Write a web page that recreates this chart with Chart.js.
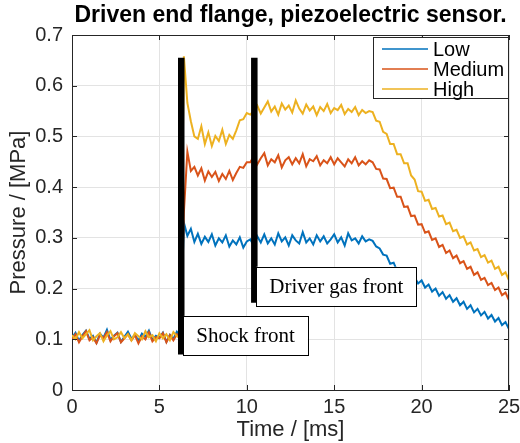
<!DOCTYPE html>
<html>
<head>
<meta charset="utf-8">
<script src="https://cdn.jsdelivr.net/npm/chart.js@4.4.1/dist/chart.umd.min.js"></script>
<style>
  html, body { margin: 0; padding: 0; background: #fff; }
  #chart { display: block; }
</style>
</head>
<body>
<canvas id="chart" width="520" height="443"></canvas>
<script>
// time axis, ms
const times = [
  0, 0.2, 0.4, 0.6, 0.8, 1, 1.2, 1.4, 1.6, 1.8,
  2, 2.2, 2.4, 2.6, 2.8, 3, 3.2, 3.4, 3.6, 3.8,
  4, 4.2, 4.4, 4.6, 4.8, 5, 5.2, 5.4, 5.6, 5.8,
  6, 6.2, 6.4, 6.6, 6.8, 7, 7.2, 7.4, 7.6, 7.8,
  8, 8.2, 8.4, 8.6, 8.8, 9, 9.2, 9.4, 9.6, 9.8,
  10, 10.2, 10.4, 10.6, 10.8, 11, 11.2, 11.4, 11.6, 11.8,
  12, 12.2, 12.4, 12.6, 12.8, 13, 13.2, 13.4, 13.6, 13.8,
  14, 14.2, 14.4, 14.6, 14.8, 15, 15.2, 15.4, 15.6, 15.8,
  16, 16.2, 16.4, 16.6, 16.8, 17, 17.2, 17.4, 17.6, 17.8,
  18, 18.2, 18.4, 18.6, 18.8, 19, 19.2, 19.4, 19.6, 19.8,
  20, 20.2, 20.4, 20.6, 20.8, 21, 21.2, 21.4, 21.6, 21.8,
  22, 22.2, 22.4, 22.6, 22.8, 23, 23.2, 23.4, 23.6, 23.8,
  24, 24.2, 24.4, 24.6, 24.8, 25
];

// pressure, MPa
const low = [
  .103, .113, .097, .109, .117, .101, .107, .093, .111, .103,
  .119, .099, .107, .113, .095, .105, .115, .101, .109, .097,
  .111, .105, .117, .099, .107, .103, .113, .095, .109, .101,
  .115, .105, .330, .304, .318, .292, .308, .288, .302, .292,
  .307, .285, .299, .291, .305, .283, .295, .287, .301, .281,
  .293, .297, .285, .303, .291, .307, .289, .299, .287, .309,
  .293, .301, .285, .305, .295, .289, .311, .291, .299, .287,
  .305, .293, .303, .289, .297, .307, .291, .301, .285, .309,
  .295, .299, .289, .303, .293, .297, .294, .283, .279, .267,
  .265, .249, .251, .235, .239, .225, .230, .216, .222, .210,
  .216, .202, .208, .194, .200, .186, .193, .180, .187, .174,
  .181, .167, .174, .160, .167, .153, .160, .147, .154, .141,
  .148, .135, .142, .128, .134, .120
];
const medium = [
  .100, .110, .094, .106, .116, .098, .104, .092, .108, .102,
  .114, .096, .106, .112, .094, .102, .110, .098, .108, .092,
  .106, .100, .114, .096, .104, .102, .112, .094, .108, .098,
  .110, .104, .350, .470, .432, .440, .423, .437, .413, .431,
  .420, .430, .412, .426, .416, .432, .414, .428, .440, .438,
  .449, .449, .461, .445, .457, .467, .443, .455, .449, .463,
  .439, .453, .459, .445, .457, .447, .465, .441, .455, .451,
  .461, .443, .453, .447, .459, .445, .457, .449, .441, .455,
  .447, .459, .443, .451, .445, .453, .449, .436, .435, .417,
  .416, .398, .399, .381, .381, .361, .362, .343, .344, .326,
  .327, .310, .313, .296, .299, .282, .286, .270, .275, .260,
  .265, .250, .254, .239, .243, .227, .232, .217, .221, .207,
  .211, .197, .202, .187, .192, .177
];
const high = [
  .108, .100, .114, .102, .110, .118, .098, .106, .112, .096,
  .108, .116, .100, .104, .114, .102, .110, .098, .112, .106,
  .100, .116, .104, .108, .096, .112, .102, .110, .098, .114,
  .106, .102, .658, .566, .530, .500, .495, .520, .485, .508,
  .481, .501, .491, .513, .485, .503, .495, .512, .532, .534,
  .546, .543, .551, .561, .545, .557, .569, .549, .559, .543,
  .565, .553, .561, .547, .571, .555, .545, .563, .551, .559,
  .542, .558, .550, .564, .546, .556, .552, .562, .544, .554,
  .548, .558, .542, .552, .546, .550, .548, .531, .529, .509,
  .505, .485, .485, .465, .465, .447, .447, .423, .415, .392,
  .391, .373, .375, .357, .359, .342, .344, .327, .330, .313,
  .316, .300, .303, .287, .291, .275, .278, .262, .266, .251,
  .255, .239, .243, .227, .232, .216
];

const seriesNames = ['Low', 'Medium', 'High'];
const seriesColors = ['#0072BD', '#D95319', '#EDB120'];

// markers: time in ms, top/bottom in MPa
const markers = [
  { label: 'Shock front', time: 6.25, top: 0.655, bottom: 0.07, boxTop: 0.146 },
  { label: 'Driver gas front', time: 10.43, top: 0.655, bottom: 0.172, boxTop: 0.243 }
];

const axisColor = '#262626';
const sans = '"Liberation Sans", Arial, sans-serif';

const datasets = [low, medium, high].map((vals, i) => ({
  label: seriesNames[i],
  data: times.map((t, j) => ({ x: t, y: vals[j] })),
  borderColor: seriesColors[i],
  borderWidth: 2,
  borderJoinStyle: 'miter',
  pointRadius: 0,
  tension: 0,
  order: 3 - i
}));

markers.forEach(m => {
  datasets.push({
    label: m.label,
    data: [{ x: m.time, y: m.top }, { x: m.time, y: m.bottom }],
    borderColor: '#000',
    borderWidth: 6.5,
    borderCapStyle: 'butt',
    pointRadius: 0,
    order: -1
  });
});

const matlabFrame = {
  id: 'matlabFrame',
  afterDraw(chart) {
    const ctx = chart.ctx;
    const { left, right, top, bottom } = chart.chartArea;
    const xs = chart.scales.x, ys = chart.scales.y;
    ctx.save();

    // box + inward ticks
    ctx.strokeStyle = axisColor;
    ctx.lineWidth = 1;
    ctx.beginPath();
    ctx.moveTo(left, top + 0.5); ctx.lineTo(right, top + 0.5);
    ctx.moveTo(right - 0.5, top); ctx.lineTo(right - 0.5, bottom);
    xs.ticks.forEach(t => {
      const px = Math.round(xs.getPixelForValue(t.value)) + 0.5;
      ctx.moveTo(px, bottom); ctx.lineTo(px, bottom - 5);
      ctx.moveTo(px, top); ctx.lineTo(px, top + 5);
    });
    ys.ticks.forEach(t => {
      const py = Math.round(ys.getPixelForValue(t.value)) + 0.5;
      ctx.moveTo(left, py); ctx.lineTo(left + 5, py);
      ctx.moveTo(right, py); ctx.lineTo(right - 5, py);
    });
    ctx.stroke();

    // marker text boxes
    ctx.font = '21px "Liberation Serif", "Times New Roman", serif';
    ctx.textBaseline = 'middle';
    ctx.textAlign = 'left';
    markers.forEach(m => {
      const bx = xs.getPixelForValue(m.time) + 2;
      const by = ys.getPixelForValue(m.boxTop);
      const w = ctx.measureText(m.label).width + 26;
      const h = 39;
      ctx.fillStyle = '#fff';
      ctx.fillRect(bx, by, w, h);
      ctx.strokeStyle = '#000';
      ctx.lineWidth = 1;
      ctx.strokeRect(Math.round(bx) + 0.5, Math.round(by) + 0.5, Math.round(w), h);
      ctx.fillStyle = '#000';
      ctx.fillText(m.label, bx + 13, by + h / 2 + 1);
    });

    // legend
    const lx = 373, ly = 37, lw = 135, lh = 61;
    ctx.fillStyle = '#fff';
    ctx.fillRect(lx, ly, lw, lh);
    ctx.strokeStyle = axisColor;
    ctx.strokeRect(lx + 0.5, ly + 0.5, lw, lh);
    ctx.font = '20px ' + sans;
    seriesNames.forEach((name, i) => {
      const y = ly + 12 + i * 20;
      ctx.strokeStyle = seriesColors[i];
      ctx.lineWidth = 1.5;
      ctx.beginPath();
      ctx.moveTo(lx + 9, y); ctx.lineTo(lx + 55, y);
      ctx.stroke();
      ctx.fillStyle = '#000';
      ctx.fillText(name, lx + 60, y + 1);
    });

    // title and axis titles
    ctx.fillStyle = '#000';
    ctx.textAlign = 'center';
    ctx.font = 'bold 23px ' + sans;
    ctx.fillText('Driven end flange, piezoelectric sensor.', (left + right) / 2, 16);
    ctx.fillStyle = axisColor;
    ctx.font = '22px ' + sans;
    ctx.fillText('Time / [ms]', (left + right) / 2, 430);
    ctx.translate(19, (top + bottom) / 2);
    ctx.rotate(-Math.PI / 2);
    ctx.fillText('Pressure / [MPa]', 0, 0);
    ctx.restore();
  }
};

new Chart(document.getElementById('chart').getContext('2d'), {
  type: 'line',
  data: { datasets },
  options: {
    responsive: false,
    animation: false,
    devicePixelRatio: 1,
    layout: { padding: { top: 35, right: 11, left: 0, bottom: 0 } },
    plugins: { legend: { display: false }, title: { display: false }, tooltip: { enabled: false } },
    scales: {
      x: {
        type: 'linear',
        min: 0,
        max: 25,
        ticks: { stepSize: 5, color: axisColor, font: { family: sans, size: 20 }, padding: 5, maxRotation: 0 },
        grid: { color: '#e3e3e3', drawTicks: false },
        border: { color: axisColor },
        afterFit: s => { s.height = 53; s.paddingLeft = 0; s.paddingRight = 0; }
      },
      y: {
        min: 0,
        max: 0.7,
        ticks: {
          stepSize: 0.1,
          color: axisColor,
          font: { family: sans, size: 20 },
          padding: 9,
          callback: v => (Math.abs(v) < 1e-9 ? '0' : v.toFixed(1))
        },
        grid: { color: '#e3e3e3', drawTicks: false },
        border: { color: axisColor },
        afterFit: s => { s.width = 72; s.paddingTop = 0; s.paddingBottom = 0; }
      }
    }
  },
  plugins: [matlabFrame]
});
</script>
</body>
</html>
